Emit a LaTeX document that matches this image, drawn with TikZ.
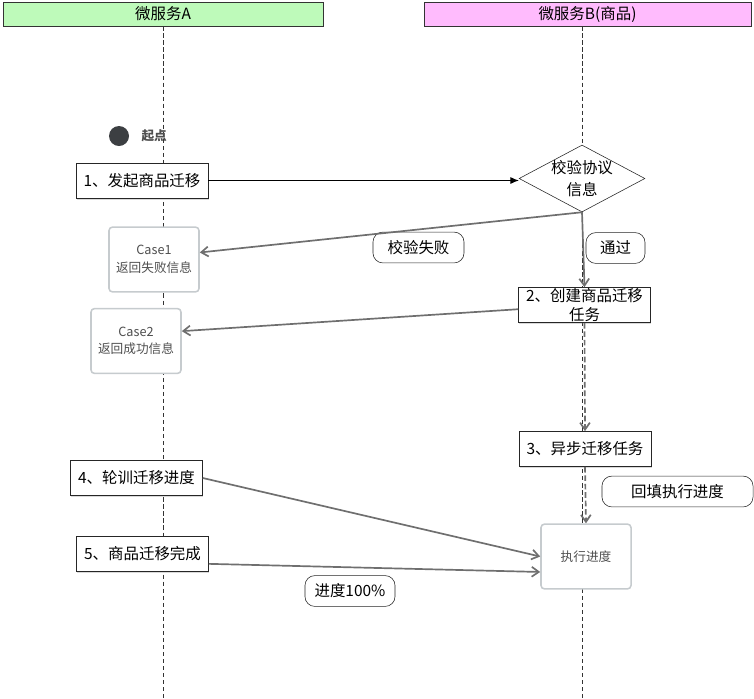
\documentclass[tikz,border=0pt]{standalone}
\usepackage{fontspec}
\setmainfont{Noto Sans CJK SC}
\usepackage{xcolor}
\usepackage{tikz}
\usetikzlibrary{shapes,arrows,positioning,calc,shadows,arrows.meta}

\definecolor{laneA}{HTML}{BEFABA}
\definecolor{laneB}{HTML}{FFBBFD}
\definecolor{flowgray}{HTML}{6F6F6F}
\definecolor{caseline}{HTML}{C6CBCE}
\definecolor{casetext}{HTML}{4F4F4F}
\definecolor{dotgray}{HTML}{3C3F42}

\tikzset{
    lane/.style={draw=black!80, minimum width=#1, minimum height=0.6cm, inner sep=0pt,
        font=\fontsize{11}{12}\selectfont,
        drop shadow={opacity=0.35, shadow xshift=0.6pt, shadow yshift=-0.8pt}},
    stepbox/.style={draw=black!85, fill=white, minimum width=3.3cm, minimum height=0.88cm,
        inner sep=2pt, align=center, font=\fontsize{11}{13}\selectfont,
        drop shadow={opacity=0.3, shadow xshift=0.5pt, shadow yshift=-1pt}},
    casebox/.style={draw=caseline, line width=1.1pt, rounded corners=2.5pt, fill=white,
        minimum width=2.25cm, minimum height=1.62cm, align=center, text=casetext,
        font=\fontsize{9}{12.5}\selectfont},
    tag/.style={draw=black!85, rounded corners=7pt, fill=white, minimum height=0.77cm,
        font=\fontsize{11}{12}\selectfont},
    decision/.style={diamond, draw=black!85, fill=white, aspect=1.88, inner sep=-0.5pt,
        align=center, font=\fontsize{11}{15.5}\selectfont},
    flow/.style={draw=flowgray, line width=1.2pt, -{Straight Barb[length=5pt,width=7pt]}},
    lifeline/.style={draw=black!80, dash pattern=on 3pt off 2pt, line width=0.5pt}
}

\begin{document}
\begin{tikzpicture}[x=0.025cm, y=-0.025cm]
    \useasboundingbox (0,0) rectangle (754,698);

    % Lanes
    \node[lane=8cm, fill=laneA] (hdrA) at (163,14) {微服务A};
    \node[lane=8.175cm, fill=laneB] (hdrB) at (587.5,14) {微服务B(商品)};
    \coordinate (footA) at (163,698);
    \coordinate (footB) at (582,698);
    \draw[lifeline] (hdrA.south) -- (footA);
    \draw[lifeline] (hdrB.south -| footB) -- (footB);

    % Start point
    \node[circle, fill=dotgray, minimum size=0.5cm, inner sep=0pt] (start) at (119,136) {};
    \node[right=0.3cm of start, inner sep=0pt, text=casetext,
        font=\bfseries\fontsize{9}{11}\selectfont] (startlbl) {起点};

    % Steps
    \node[stepbox] (step1) at (142,180.5) {1、发起商品迁移};
    \node[decision] (check) at (582,178.5) {校验协议\\信息};
    \node[casebox] (case1) at (154,259.5) {Case1\\返回失败信息};
    \node[tag, minimum width=2.275cm] (failtag) at (418.5,247.5) {校验失败};
    \node[tag, minimum width=1.475cm] (passtag) at (615.5,248) {通过};
    \node[stepbox, inner sep=0pt] (step2) at (584.5,305) {2、创建商品迁移\\任务};
    \node[casebox] (case2) at (136,341) {Case2\\返回成功信息};
    \node[stepbox] (step3) at (585,449) {3、异步迁移任务};
    \node[stepbox] (step4) at (136.5,478) {4、轮训迁移进度};
    \node[tag, minimum width=3.775cm] (filltag) at (677.5,491.5) {回填执行进度};
    \node[stepbox] (step5) at (142.5,554) {5、商品迁移完成};
    \node[casebox] (progress) at (586,556.5) {执行进度};
    \node[tag, minimum width=2.25cm] (donetag) at (350,591) {进度100\%};

    % Arrows
    \draw[-{Latex[length=6pt,width=5pt]}, line width=0.6pt] (step1.east) -- (step1.east -| check.west);
    \draw[flow] (check.south) -- ([yshift=5pt]case1.east);
    \draw[flow] (check.south) -- (step2.north);
    \draw[flow] ([yshift=-3pt]step2.west) -- ([yshift=7pt]case2.east);
    \draw[flow, dash pattern=on 4pt off 2pt] (step2.south) -- (step3.north);
    \draw[flow, dash pattern=on 4pt off 2pt] (step3.south) -- (progress.north);
    \draw[flow] (step4.east) -- (progress.west);
    \draw[flow] ([yshift=-7pt]step5.east) -- ([yshift=-11pt]progress.west);

\end{tikzpicture}
\end{document}
